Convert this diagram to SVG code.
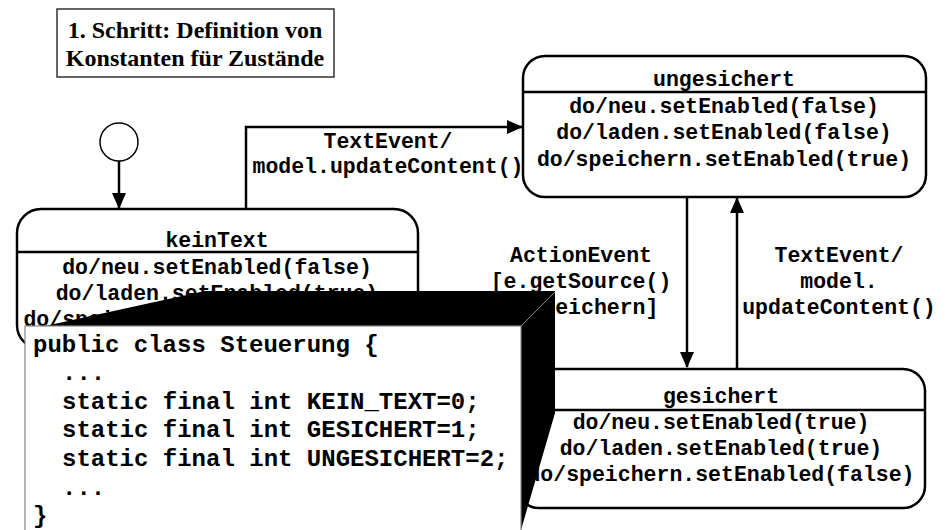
<svg xmlns="http://www.w3.org/2000/svg" width="950" height="530" viewBox="0 0 950 530">
<style>
.st{fill:#fff;stroke:#000;stroke-width:2.5}
.hd{stroke:#000;stroke-width:2.5}
.m{font-family:"Liberation Mono","Courier New",monospace;font-weight:bold;font-size:21.5px;fill:#000;text-anchor:middle}
.code{font-family:"Liberation Mono","Courier New",monospace;font-weight:bold;font-size:24px;fill:#000}
.ttl{font-family:"Liberation Serif","Times New Roman",serif;font-weight:bold;font-size:24px;fill:#000;text-anchor:middle}
.cn{fill:none;stroke:#000;stroke-width:2.5}
</style>
<defs>
<marker id="ah" markerUnits="userSpaceOnUse" markerWidth="16" markerHeight="14" refX="15" refY="7" orient="auto">
<path d="M0,0 L16,7 L0,14 Z" fill="#000"/>
</marker>
</defs>
<g id="title">
<rect x="57" y="9" width="277" height="68" fill="#fff" stroke="#333" stroke-width="1.5"/>
<text class="ttl" x="195" y="38">1. Schritt: Definition von</text>
<text class="ttl" x="195" y="66">Konstanten für Zustände</text>
</g>
<g id="initial">
<circle cx="119" cy="142" r="19" fill="#fff" stroke="#000" stroke-width="1.5"/>
</g>
<g id="keinText">
<rect class="st" x="17" y="209" width="401" height="140" rx="24"/>
<line class="hd" x1="17" y1="252" x2="418" y2="252"/>
<text class="m" x="217" y="247">keinText</text>
<text class="m" x="217" y="274">do/neu.setEnabled(false)</text>
<text class="m" x="217" y="300">do/laden.setEnabled(true)</text>
<text class="m" x="217" y="326">do/speichern.setEnabled(false)</text>
</g>
<g id="ungesichert">
<rect class="st" x="523" y="56" width="403" height="141" rx="22"/>
<line class="hd" x1="523" y1="92" x2="926" y2="92"/>
<text class="m" x="724" y="86">ungesichert</text>
<text class="m" x="724" y="113">do/neu.setEnabled(false)</text>
<text class="m" x="724" y="139">do/laden.setEnabled(false)</text>
<text class="m" x="724" y="166">do/speichern.setEnabled(true)</text>
</g>
<g id="gesichert">
<rect class="st" x="517" y="369" width="408" height="139" rx="22"/>
<line class="hd" x1="517" y1="410" x2="925" y2="410"/>
<text class="m" x="721" y="403">gesichert</text>
<text class="m" x="721" y="429">do/neu.setEnabled(true)</text>
<text class="m" x="721" y="455">do/laden.setEnabled(true)</text>
<text class="m" x="721" y="481">do/speichern.setEnabled(false)</text>
</g>
<g id="connectors">
<line class="cn" x1="119" y1="161" x2="119" y2="208" marker-end="url(#ah)"/>
<polyline class="cn" points="246,209 246,127 522,127" marker-end="url(#ah)"/>
<line class="cn" x1="687" y1="197" x2="687" y2="367" marker-end="url(#ah)"/>
<line class="cn" x1="737" y1="369" x2="737" y2="198" marker-end="url(#ah)"/>
<text class="m" x="388" y="148">TextEvent/</text>
<text class="m" x="388" y="173">model.updateContent()</text>
<text class="m" x="581" y="262">ActionEvent</text>
<text class="m" x="581" y="288">[e.getSource()</text>
<text class="m" x="581" y="314">==speichern]</text>
<text class="m" x="839" y="262">TextEvent/</text>
<text class="m" x="839" y="288">model.</text>
<text class="m" x="839" y="314">updateContent()</text>
</g>
<g id="code">
<polygon points="45,326 205,291 555,291 555,413 521,530 521,326" fill="#000"/>
<rect x="25" y="326" width="496" height="210" fill="#fff" stroke="#888" stroke-width="1.2"/>
<line x1="521" y1="326" x2="555" y2="292" stroke="#888" stroke-width="1"/>
<text class="code" x="33" y="352">public class Steuerung {</text>
<text class="code" x="62" y="380">...</text>
<text class="code" x="62" y="409">static final int KEIN_TEXT=0;</text>
<text class="code" x="62" y="437">static final int GESICHERT=1;</text>
<text class="code" x="62" y="466">static final int UNGESICHERT=2;</text>
<text class="code" x="62" y="495">...</text>
<text class="code" x="33" y="523">}</text>
</g>
</svg>
